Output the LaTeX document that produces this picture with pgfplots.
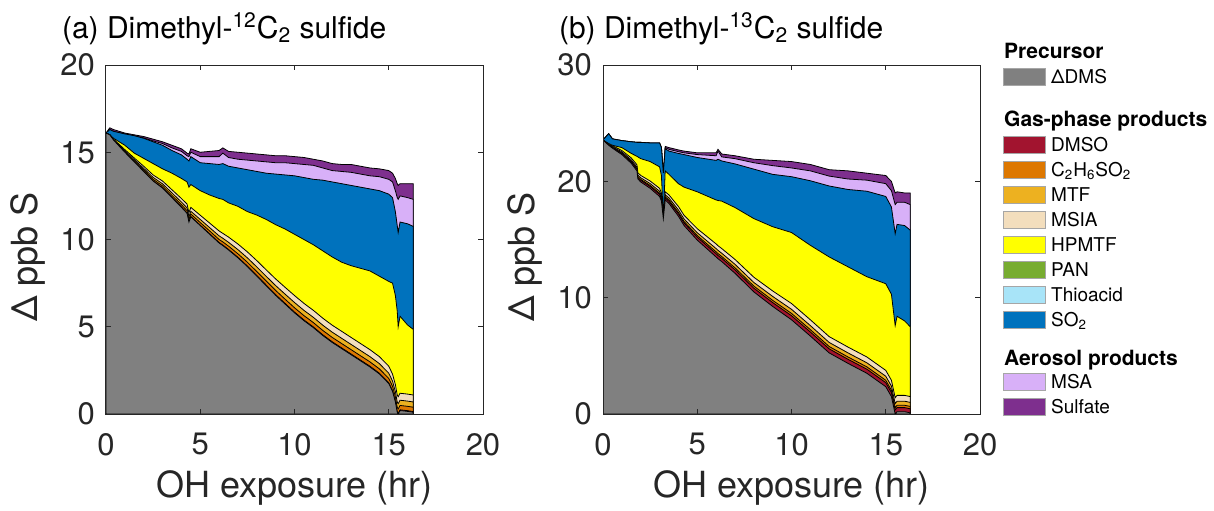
\documentclass[border=0pt]{standalone}
\usepackage{pgfplots}
\pgfplotsset{compat=1.18}
\usepackage{pgfplotstable}
\usepackage{fontspec}
\setmainfont{TeX Gyre Heros}
\definecolor{axc}{HTML}{262626}
\definecolor{cG}{HTML}{808080}
\definecolor{cD}{HTML}{A2142F}
\definecolor{cC}{HTML}{DD7700}
\definecolor{cM}{HTML}{EDB120}
\definecolor{cI}{HTML}{F3DEBD}
\definecolor{cY}{HTML}{FFFF00}
\definecolor{cP}{HTML}{77AC30}
\definecolor{cT}{HTML}{A8E4F8}
\definecolor{cS}{HTML}{0072BD}
\definecolor{cA}{HTML}{D8B0F8}
\definecolor{cU}{HTML}{7E2F8E}

\pgfplotstableread{
x G D C M I Y S A U
0 16.1 16.1 16.1 16.1 16.1 16.1 16.1 16.1 16.1
0.2 16.0 16.0 16.0 16.0 16.0 16.0 16.3 16.3 16.4
0.4 15.7 15.70 15.71 15.73 15.75 15.8 16.2 16.2 16.3
1.0 15.0 15.01 15.04 15.09 15.15 15.4 16.05 16.05 16.1
1.5 14.45 14.46 14.51 14.58 14.67 14.95 15.95 15.95 16.0
2.0 13.9 13.91 13.99 14.08 14.20 14.65 15.8 15.82 15.9
2.5 13.35 13.36 13.45 13.56 13.70 14.35 15.6 15.65 15.75
3.0 12.95 12.97 13.07 13.19 13.35 14.05 15.4 15.5 15.6
3.5 12.4 12.42 12.53 12.67 12.85 13.8 15.1 15.25 15.4
4.0 11.85 11.87 12.00 12.15 12.35 13.5 14.85 15.05 15.2
4.3 11.5 11.52 11.65 11.81 12.03 13.3 14.6 14.8 14.95
4.4 11.0 11.02 11.15 11.31 11.53 13.0 14.5 14.75 14.9
4.5 11.3 11.32 11.46 11.62 11.84 13.15 14.75 15.0 15.2
5.0 10.8 10.82 10.97 11.15 11.39 12.8 14.4 14.75 15.0
5.5 10.3 10.33 10.49 10.68 10.94 12.55 14.35 14.75 15.05
6.0 9.8 9.83 10.00 10.21 10.49 12.35 14.3 14.75 15.1
6.2 9.65 9.68 9.86 10.07 10.35 12.3 14.35 14.95 15.25
6.5 9.4 9.43 9.62 9.84 10.14 12.1 14.2 14.7 15.05
7.0 8.95 8.98 9.18 9.42 9.74 11.9 14.1 14.6 15.0
7.5 8.45 8.48 8.70 8.95 9.29 11.6 14.0 14.55 14.95
8.0 7.9 7.94 8.16 8.43 8.79 11.4 13.9 14.5 14.9
8.5 7.35 7.39 7.62 7.89 8.26 11.15 13.8 14.45 14.85
9.0 6.8 6.84 7.08 7.36 7.74 10.85 13.75 14.4 14.8
9.5 6.3 6.34 6.58 6.87 7.26 10.6 13.7 14.4 14.8
10.0 5.8 5.84 6.09 6.39 6.79 10.3 13.65 14.35 14.75
10.5 5.35 5.39 5.64 5.94 6.34 10.0 13.55 14.3 14.7
11.0 4.95 4.99 5.24 5.54 5.94 9.7 13.45 14.25 14.6
11.5 4.5 4.54 4.79 5.09 5.49 9.35 13.4 14.1 14.5
12.0 4.1 4.14 4.39 4.69 5.09 9.0 13.3 13.95 14.35
12.5 3.75 3.79 4.04 4.34 4.74 8.7 13.2 13.9 14.3
13.0 3.4 3.44 3.69 3.99 4.39 8.5 13.1 13.85 14.3
13.5 3.05 3.09 3.34 3.64 4.04 8.35 13.0 13.75 14.2
14.0 2.7 2.74 2.99 3.29 3.69 8.2 12.9 13.65 14.1
14.5 2.3 2.34 2.59 2.89 3.29 7.9 12.8 13.6 14.05
15.0 1.75 1.79 2.04 2.34 2.74 7.6 12.6 13.45 13.95
15.2 1.3 1.34 1.59 1.89 2.29 7.5 12.4 13.3 13.8
15.35 0.7 0.74 0.99 1.29 1.69 6.8 11.6 12.8 13.5
15.45 0.1 0.14 0.39 0.69 1.09 5.9 10.8 12.4 13.2
15.5 0.0 0.04 0.29 0.59 0.99 5.0 10.4 12.3 13.1
15.6 0.2 0.24 0.49 0.79 1.19 5.6 11.0 12.5 13.2
16.0 0.15 0.19 0.44 0.74 1.14 5.1 10.9 12.4 13.2
16.3 0.1 0.14 0.39 0.69 1.09 4.85 10.75 12.3 13.2
}\dataa

\pgfplotstableread{
x G D C M I Y S A U
0 23.55 23.55 23.55 23.55 23.55 23.55 23.55 23.55 23.55
0.3 23.1 23.12 23.13 23.15 23.17 23.25 24.1 24.1 24.1
0.5 22.85 22.90 22.93 22.99 23.06 23.1 23.65 23.65 23.65
1.0 22.3 22.39 22.44 22.53 22.65 22.9 23.5 23.5 23.5
1.5 21.55 21.67 21.73 21.85 22.01 22.4 23.4 23.4 23.4
1.8 20.9 21.03 21.10 21.23 21.42 22.15 23.35 23.35 23.35
1.85 20.2 20.33 20.41 20.54 20.73 22.1 23.35 23.35 23.35
2.0 19.95 20.09 20.17 20.31 20.51 21.95 23.35 23.35 23.35
2.5 19.4 19.56 19.65 19.81 20.03 21.7 23.3 23.3 23.3
3.0 18.7 18.88 18.98 19.15 19.40 21.25 23.3 23.3 23.3
3.1 18.3 18.48 18.58 18.75 19.00 20.5 22.9 22.9 22.9
3.2 16.8 16.8 16.8 16.8 16.8 16.8 20.7 20.7 20.7
3.3 18.4 18.58 18.68 18.85 19.10 20.9 22.8 22.9 23.0
3.5 18.1 18.28 18.39 18.57 18.83 20.6 22.6 22.75 22.9
4.0 17.0 17.21 17.33 17.54 17.84 19.8 22.4 22.55 22.7
4.3 16.2 16.42 16.55 16.77 17.08 19.5 22.3 22.45 22.6
5.0 14.95 15.20 15.34 15.58 15.93 19.1 22.05 22.3 22.45
6.0 13.5 13.78 13.94 14.22 14.62 18.4 21.8 22.2 22.45
6.1 13.35 13.63 13.79 14.07 14.47 18.35 21.9 22.6 22.75
6.3 13.1 13.38 13.54 13.82 14.22 18.3 21.75 22.1 22.35
7.0 12.1 12.40 12.57 12.87 13.29 17.75 21.5 21.95 22.2
8.0 10.5 10.82 11.00 11.31 11.76 16.8 21.05 21.6 21.9
9.0 9.25 9.58 9.77 10.11 10.58 16.1 20.6 21.35 21.8
10.0 8.1 8.45 8.65 9.0 9.5 15.6 20.4 21.15 21.7
11.0 6.7 7.05 7.25 7.6 8.1 14.5 20.05 20.9 21.45
12.0 5.25 5.6 5.8 6.15 6.65 13.5 19.6 20.45 21.0
13.0 4.35 4.7 4.9 5.25 5.75 12.65 19.3 20.2 20.9
14.0 3.5 3.85 4.05 4.4 4.9 11.8 19.15 20.1 20.7
15.0 2.35 2.7 2.9 3.25 3.75 11.2 18.7 19.8 20.5
15.3 1.5 1.85 2.05 2.4 2.9 10.3 17.8 19.2 20.0
15.5 0.0 0.35 0.55 0.9 1.4 7.6 15.5 18.0 19.0
15.6 0.2 0.55 0.75 1.1 1.6 8.4 16.3 18.2 19.1
16.0 0.2 0.55 0.75 1.1 1.6 8.0 16.2 18.2 19.0
16.3 0.1 0.45 0.65 1.0 1.5 7.5 15.8 18.0 19.0
}\datab

\pgfplotsset{
  myaxis/.style={
    scale only axis, width=188.5pt, height=174.5pt,
    xmin=0, xmax=20, xtick={0,5,10,15,20},
    axis on top,
    axis line style={line width=0.5pt, draw=axc},
    major tick style={line width=0.5pt, draw=axc},
    major tick length=2.5pt,
    tick label style={font=\fontsize{15.5}{18}\selectfont, text=axc},
    xticklabel style={yshift=-6pt},
    yticklabel style={xshift=-2pt},
    /pgf/number format/assume math mode=true,
    xlabel={OH exposure (hr)}, ylabel={Δ ppb S},
    every axis x label/.style={at={(axis description cs:0.5,-0.212)}, anchor=center, font=\fontsize{18}{20}\selectfont, text=axc},
    every axis y label/.style={at={(axis description cs:-0.207,0.45)}, rotate=90, anchor=center, font=\fontsize{18}{20}\selectfont, text=axc},
    every axis title/.style={at={(axis description cs:0,1)}, anchor=base west, xshift=-25.5pt, yshift=13.5pt, font=\fontsize{15}{17}\selectfont},
  },
  lay/.style={forget plot, fill=#1, draw=black, line width=0.4pt},
  sw/.style={legend image code/.code={\draw[fill=#1, draw=gray!70, line width=0.4pt] (0pt,-3.5pt) rectangle (21pt,5pt);}},
}

\begin{document}
\begin{tikzpicture}
\useasboundingbox (-53pt,-48pt) rectangle (554pt,207pt);
\begin{axis}[myaxis, ymin=0, ymax=20, ytick={0,5,10,15,20},
  title={(a) Dimethyl-\textsuperscript{12}C\textsubscript{2} sulfide}]
\addplot[lay=cU] table[x=x,y=U]{\dataa} \closedcycle;
\addplot[lay=cA] table[x=x,y=A]{\dataa} \closedcycle;
\addplot[lay=cS] table[x=x,y=S]{\dataa} \closedcycle;
\addplot[lay=cY] table[x=x,y=Y]{\dataa} \closedcycle;
\addplot[lay=cI] table[x=x,y=I]{\dataa} \closedcycle;
\addplot[lay=cM] table[x=x,y=M]{\dataa} \closedcycle;
\addplot[lay=cC] table[x=x,y=C]{\dataa} \closedcycle;
\addplot[lay=cD] table[x=x,y=D]{\dataa} \closedcycle;
\addplot[lay=cG] table[x=x,y=G]{\dataa} \closedcycle;
\end{axis}
\begin{axis}[myaxis, at={(248.5pt,0pt)}, ymin=0, ymax=30, ytick={0,10,20,30},
  title={(b) Dimethyl-\textsuperscript{13}C\textsubscript{2} sulfide},
  legend cell align=left,
  legend style={at={(axis description cs:1,1)}, anchor=north west, xshift=11.5pt, yshift=11pt,
    draw=none, fill=none, inner sep=0pt, row sep=2.25pt,
    font=\fontsize{9.5}{11}\selectfont,
    nodes={inner sep=0pt, text height=7.5pt, text depth=2.5pt},
    /tikz/every odd column/.append style={column sep=2.5pt}}]
\addplot[lay=cU] table[x=x,y=U]{\datab} \closedcycle;
\addplot[lay=cA] table[x=x,y=A]{\datab} \closedcycle;
\addplot[lay=cS] table[x=x,y=S]{\datab} \closedcycle;
\addplot[lay=cY] table[x=x,y=Y]{\datab} \closedcycle;
\addplot[lay=cI] table[x=x,y=I]{\datab} \closedcycle;
\addplot[lay=cM] table[x=x,y=M]{\datab} \closedcycle;
\addplot[lay=cC] table[x=x,y=C]{\datab} \closedcycle;
\addplot[lay=cD] table[x=x,y=D]{\datab} \closedcycle;
\addplot[lay=cG] table[x=x,y=G]{\datab} \closedcycle;
\addlegendimage{empty legend}
\addlegendentry{\hspace*{-23.5pt}\fontsize{10.5}{12}\bfseries Precursor}
\addlegendimage{sw=cG}\addlegendentry{ΔDMS}
\addlegendimage{empty legend}
\addlegendentry[text height=16.95pt, text depth=2.55pt]{\hspace*{-23.5pt}\fontsize{10.5}{12}\bfseries Gas-phase products}
\addlegendimage{sw=cD}\addlegendentry{DMSO}
\addlegendimage{sw=cC}\addlegendentry{C\textsubscript{2}H\textsubscript{6}SO\textsubscript{2}}
\addlegendimage{sw=cM}\addlegendentry{MTF}
\addlegendimage{sw=cI}\addlegendentry{MSIA}
\addlegendimage{sw=cY}\addlegendentry{HPMTF}
\addlegendimage{sw=cP}\addlegendentry{PAN}
\addlegendimage{sw=cT}\addlegendentry{Thioacid}
\addlegendimage{sw=cS}\addlegendentry{SO\textsubscript{2}}
\addlegendimage{empty legend}
\addlegendentry[text height=15pt, text depth=1.5pt]{\hspace*{-23.5pt}\fontsize{10.5}{12}\bfseries Aerosol products}
\addlegendimage{sw=cA}\addlegendentry{MSA}
\addlegendimage{sw=cU}\addlegendentry{Sulfate}
\end{axis}
\end{tikzpicture}
\end{document}
